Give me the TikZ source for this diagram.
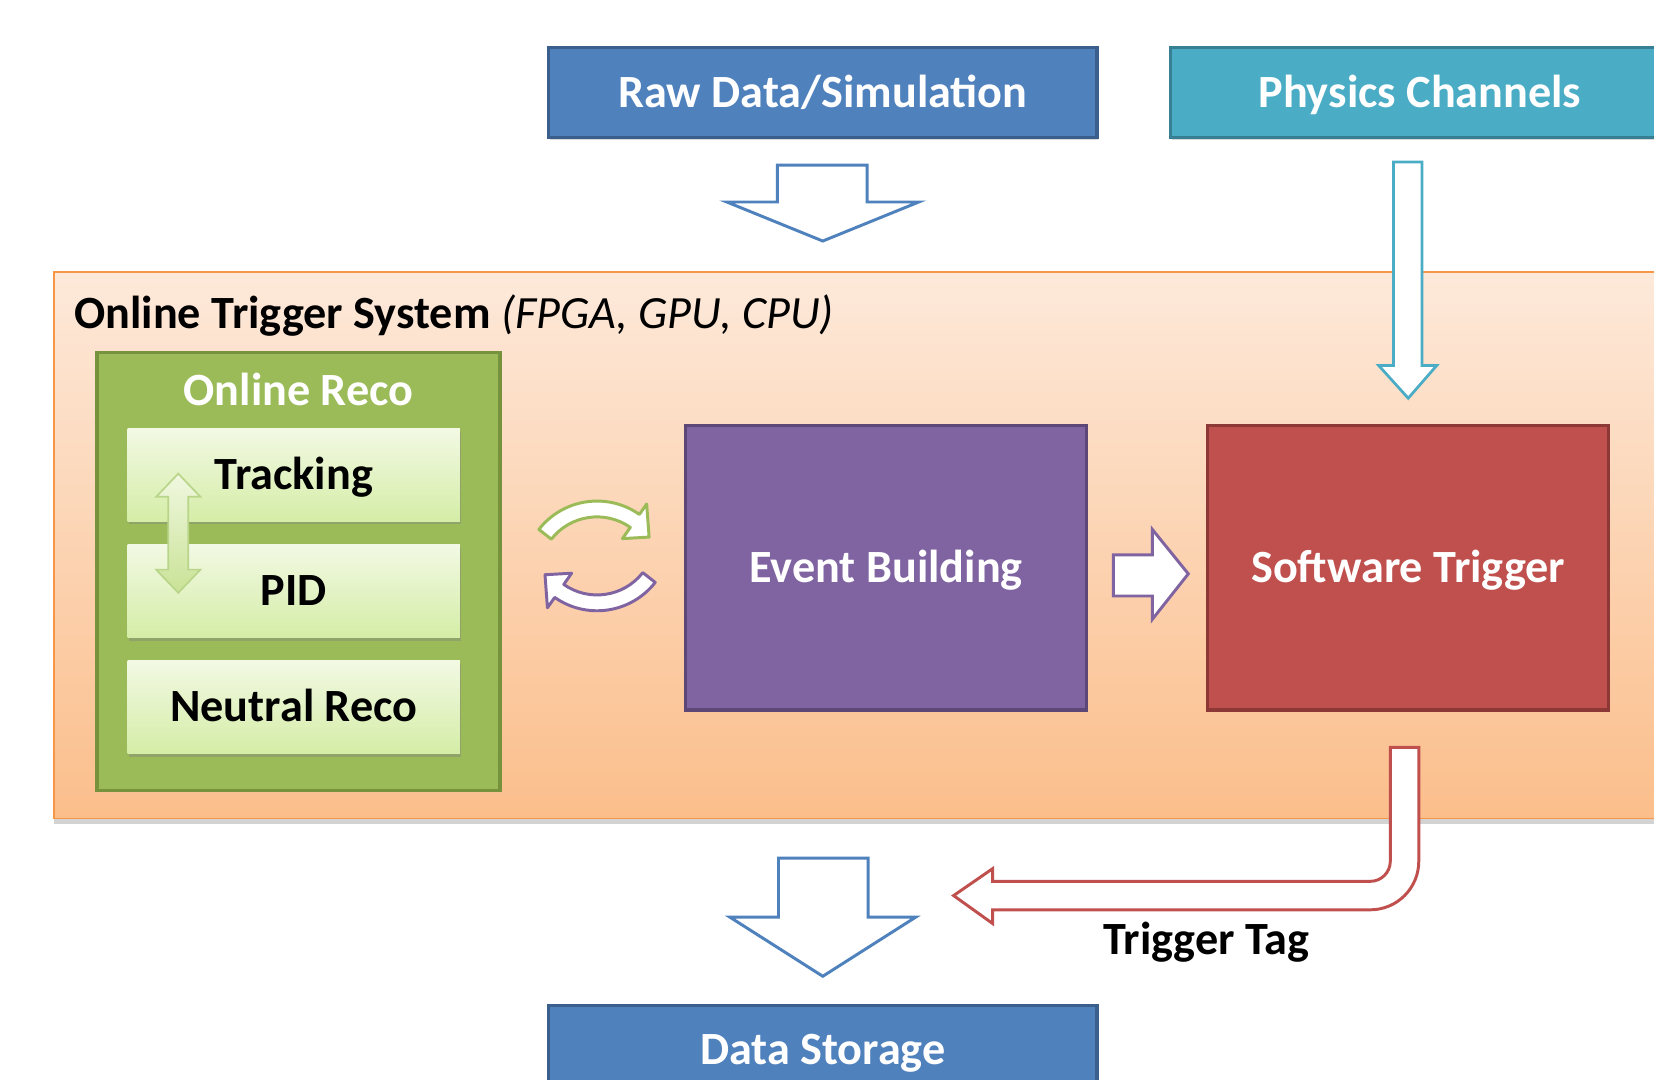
\documentclass[tikz,border=0pt]{standalone}
\usepackage{fontspec}
\setmainfont{Carlito}
\usetikzlibrary{shadows,calc}

\definecolor{rawblue}{HTML}{4F81BD}
\definecolor{rawblueedge}{HTML}{3A5F8C}
\definecolor{physcyan}{HTML}{4BACC6}
\definecolor{physcyanedge}{HTML}{377F92}
\definecolor{evpurple}{HTML}{8064A2}
\definecolor{evpurpleedge}{HTML}{5C4776}
\definecolor{swred}{HTML}{C0504D}
\definecolor{swrededge}{HTML}{8C3836}
\definecolor{recogreen}{HTML}{9BBB59}
\definecolor{recogreenedge}{HTML}{76923C}
\definecolor{orangeedge}{HTML}{F79646}
\definecolor{orangetop}{HTML}{FDE9DA}
\definecolor{orangebot}{HTML}{FBBE8B}
\definecolor{subtop}{HTML}{F2F9E4}
\definecolor{subbot}{HTML}{D5EDA7}
\definecolor{dbltop}{HTML}{F0F8E0}
\definecolor{dblbot}{HTML}{C9E296}
\definecolor{dbledge}{HTML}{B9D58A}

\begin{document}
\begin{tikzpicture}[x=0.5pt,y=-0.5pt,
  font=\fontsize{21.9pt}{26pt}\selectfont\bfseries,
  box/.style={draw, line width=1.5pt, inner sep=0pt, text=white,
    text height=14.1pt, text depth=0pt,
    drop shadow={opacity=0.3, shadow xshift=0.6pt, shadow yshift=-1.2pt}},
  subbox/.style={inner sep=0pt, top color=subtop, bottom color=subbot,
    minimum width=157.5pt, minimum height=44pt,
    text height=14.1pt, text depth=0pt,
    drop shadow={opacity=0.4, shadow xshift=0.6pt, shadow yshift=-1.6pt}},
  hollow/.style={fill=white, line width=1.4pt, line join=miter},
  loopgreen/.style={fill=white, draw=recogreen, line width=1.4pt, line join=round},
  looppurple/.style={fill=white, draw=evpurple, line width=1.4pt, line join=round}]

\useasboundingbox (0,0) rectangle (1568,1023);
\clip (0,0) rectangle (1568,1023);

% input boxes
\node[box, fill=rawblue, draw=rawblueedge, minimum width=260pt, minimum height=42.5pt]
  (raw) at (780,87.5) {Raw Data/Simulation};
\node[box, fill=physcyan, draw=physcyanedge, minimum width=236pt, minimum height=42.5pt]
  (phys) at (1346,87.5) {Physics Channels};

% trigger system container
\node[draw=orangeedge, line width=0.8pt, top color=orangetop, bottom color=orangebot,
  minimum width=784.5pt, minimum height=259pt, inner sep=0pt,
  drop shadow={opacity=0.35, shadow xshift=0pt, shadow yshift=-2.5pt}]
  (trig) at (835.5,517) {};
\node[anchor=base west, inner sep=0pt] (title) at (70,311)
  {Online Trigger System {\mdseries\itshape (FPGA, GPU, CPU)}};

% online reconstruction
\node[draw=recogreenedge, fill=recogreen, line width=1.5pt, inner sep=0pt,
  minimum width=191pt, minimum height=207.5pt] (reco) at (283,541.5) {};
\node[anchor=base, text=white, inner sep=0pt] (recotitle) at (283,384) {Online Reco};
\node[subbox] (track) at (278.5,450) {Tracking};
\node[subbox] (pid) at (278.5,560) {PID};
\node[subbox] (neutral) at (278.5,670) {Neutral Reco};

% tracking <-> PID exchange
\draw[top color=dbltop, bottom color=dblbot, draw=dbledge, line width=0.8pt]
  (169,449) -- (190,471) -- (178.5,471) -- (178.5,540) -- (190,540) -- (169,562)
  -- (148,540) -- (159.5,540) -- (159.5,471) -- (148,471) -- cycle;

% processing stages
\node[box, fill=evpurple, draw=evpurpleedge, minimum width=190pt, minimum height=135pt]
  (ev) at (840,538) {Event Building};
\node[box, fill=swred, draw=swrededge, minimum width=190pt, minimum height=135pt]
  (soft) at (1335,538) {Software Trigger};

% output box
\node[box, fill=rawblue, draw=rawblueedge, minimum width=260pt, minimum height=42.5pt]
  (store) at (780,995.5) {Data Storage};

% raw data into the trigger system
\begin{scope}[shift={(raw.south)}]
  \draw[hollow, draw=rawblue] (-43,25) -- (42,25) -- (42,60) -- (91,60) -- (0,97)
    -- (-91,60) -- (-43,60) -- cycle;
\end{scope}

% physics channels into the software trigger
\begin{scope}[shift={(soft.north)}]
  \draw[hollow, draw=physcyan, line width=1.3pt] (-14,-248) -- (13,-248) -- (13,-55)
    -- (27,-55) -- (0,-24) -- (-28,-55) -- (-14,-55) -- cycle;
\end{scope}

% event building to software trigger
\begin{scope}[shift={(ev.east)}]
  \draw[hollow, draw=evpurple] (24,-12) -- (61,-12) -- (61,-36) -- (95,6) -- (61,49)
    -- (61,27) -- (24,27) -- cycle;
\end{scope}

% trigger tag back to the output stream
\begin{scope}[shift={(soft.south)}]
  \draw[hollow, draw=swred] (-17,34) -- (10,34) -- (10,142)
    arc[start angle=0, end angle=-90, radius=23pt] -- (-394,188) -- (-394,201)
    -- (-431,174.5) -- (-394,149) -- (-394,161) -- (-36,161)
    arc[start angle=-90, end angle=0, radius=9.5pt] -- cycle;
\end{scope}
\node[anchor=base, inner sep=0pt] (tag) at (1143.5,905) {Trigger Tag};

% selected events to storage
\begin{scope}[shift={(store.north)}]
  \draw[hollow, draw=rawblue] (-42,-138) -- (43,-138) -- (43,-82) -- (88,-82) -- (0,-26)
    -- (-88,-82) -- (-42,-82) -- cycle;
\end{scope}

% exchange between reconstruction and event building
\coordinate (gc) at (566,545);
\coordinate (pc) at (566,509);
\draw[loopgreen] ($(gc)+(142:35pt)$) arc[start angle=142, end angle=55, radius=35pt]
  -- ($(gc)+(55:41pt)$) -- ($(gc)+(36:30.5pt)$) -- ($(gc)+(55:21pt)$)
  -- ($(gc)+(55:27.5pt)$) arc[start angle=55, end angle=142, radius=27.5pt] -- cycle;
\draw[looppurple] ($(pc)+(322:35pt)$) arc[start angle=322, end angle=235, radius=35pt]
  -- ($(pc)+(235:41pt)$) -- ($(pc)+(216:30.5pt)$) -- ($(pc)+(235:21pt)$)
  -- ($(pc)+(235:27.5pt)$) arc[start angle=235, end angle=322, radius=27.5pt] -- cycle;

\end{tikzpicture}
\end{document}
